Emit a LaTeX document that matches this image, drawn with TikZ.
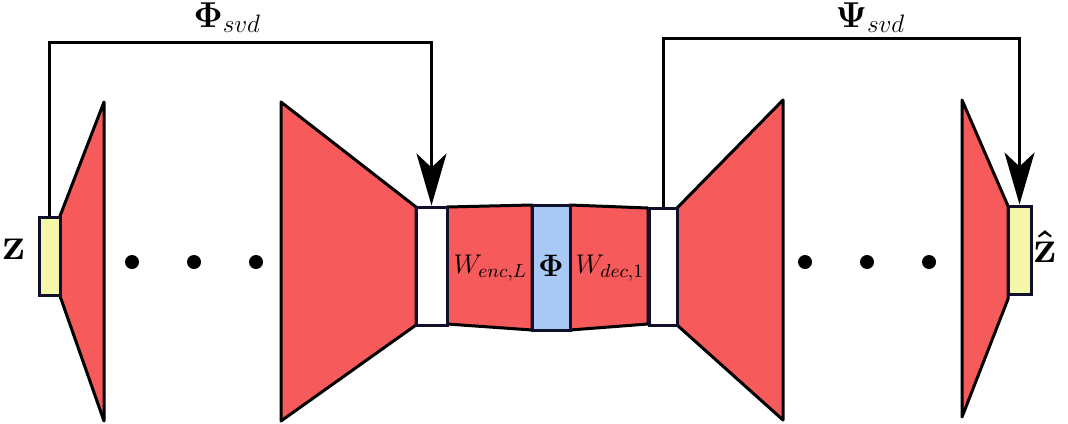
\RequirePackage{fix-cm}
\documentclass[tikz,border=0pt]{standalone}
\usepackage{amsmath}
\usetikzlibrary{shapes, arrows.meta, positioning}
\definecolor{layerred}{HTML}{F75A5A}
\definecolor{latentyellow}{HTML}{F4F6AA}
\definecolor{coreblue}{HTML}{A9C9F5}
\definecolor{boxline}{HTML}{10102A}

\begin{document}
\begin{tikzpicture}[x=0.5pt, y=-0.5pt, line width=1.5pt,
    layer/.style={draw, fill=layerred, line join=round},
    blk/.style={draw=boxline, rectangle, inner sep=0pt},
    lbl/.style={anchor=base west, inner sep=0pt},
    svd/.style={line join=miter, -{Stealth[length=26pt, width=15pt, inset=7pt]}}]
        \useasboundingbox (0,0) rectangle (1068,423);

        % Draw the encoder layers
        \path[layer] (60,216) -- (104,102) -- (104,421) -- (60,296) -- cycle;
        \path[layer] (281,102) -- (416,207) -- (416,325) -- (281,421) -- cycle;
        \path[layer] (447,207) -- (532,205) -- (532,330) -- (447,324) -- cycle;

        % Draw the decoder layers
        \path[layer] (570,205) -- (648,208) -- (648,324) -- (570,330) -- cycle;
        \path[layer] (677,208) -- (783,100) -- (783,420) -- (677,325) -- cycle;
        \path[layer] (962,100) -- (1008,206) -- (1008,299) -- (962,417) -- cycle;

        % Draw the blocks
        \node (zin)  [blk, fill=latentyellow, minimum width=10.5pt, minimum height=39pt] at (49.5,256) {};
        \node (gapL) [blk, fill=white, minimum width=15.5pt, minimum height=59pt] at (431.5,266) {};
        \node (core) [blk, fill=coreblue, minimum width=19pt, minimum height=62.5pt] at (551,267.5) {};
        \node (gapR) [blk, fill=white, minimum width=14pt, minimum height=58.5pt] at (663,266.5) {};
        \node (zhat) [blk, fill=latentyellow, minimum width=11.5pt, minimum height=44pt] at (1019.5,250) {};

        % Draw the dots
        \foreach \x in {132,194,256,805,867,929}
            \fill (\x,262) circle (3.5pt);

        % Add the labels
        \node (zlab)    [lbl] at (1,259) {\fontsize{23}{27}\selectfont$\mathbf{z}$};
        \node (zhatlab) [lbl] at (1032,262) {\fontsize{23}{27}\selectfont$\boldsymbol{\hat{\mathbf{z}}}$};
        \node (wenc)    [lbl] at (452,273) {\fontsize{13.5}{16}\selectfont$W_{enc,L}$};
        \node (corelab) [anchor=base, inner sep=0pt] at (551,276) {\fontsize{15.5}{18}\selectfont$\mathbf{\Phi}$};
        \node (wdec)    [lbl] at (574,273) {\fontsize{13.5}{16}\selectfont$W_{dec,1}$};
        \node (phisvd)  [lbl] at (192,27) {\fontsize{18}{22}\selectfont$\mathbf{\Phi}_{svd}$};
        \node (psisvd)  [lbl] at (834,27) {\fontsize{18}{22}\selectfont$\mathbf{\Psi}_{svd}$};

        % Draw the skip connections
        \coordinate (topL) at (0,42);
        \coordinate (topR) at (0,38);
        \draw [svd] (zin.north) -- (zin.north |- topL) -| (gapL.north);
        \draw [svd] (gapR.north) -- (gapR.north |- topR) -| (zhat.north);
    \end{tikzpicture}
\end{document}
